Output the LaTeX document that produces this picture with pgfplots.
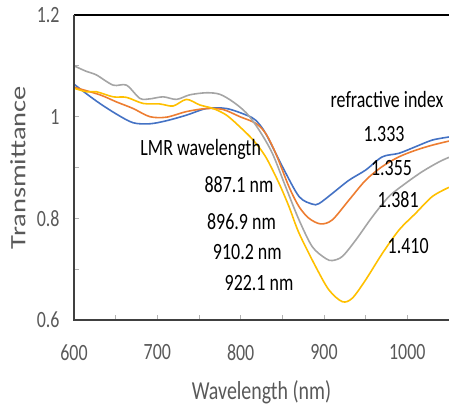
\documentclass[border=0pt]{standalone}
\usepackage{fontspec}
\setmainfont{Carlito}
\usepackage{graphicx}
\usepackage{pgfplots}
\pgfplotsset{compat=1.18}
\definecolor{xlblue}{HTML}{4472C4}
\definecolor{xlorange}{HTML}{ED7D31}
\definecolor{xlgray}{HTML}{A5A5A5}
\definecolor{xlyellow}{HTML}{FFC000}
\definecolor{lblgray}{HTML}{595959}
\newcommand{\st}[1]{\scalebox{1}[1.3]{#1}}
\begin{document}
\begin{tikzpicture}
\begin{axis}[
  scale only axis, width=375bp, height=305bp,
  xmin=600, xmax=1050, ymin=0.6, ymax=1.2,
  clip mode=individual,
  axis line style={draw=none},
  xtick={600,700,800,900,1000},
  xticklabels={\st{600},\st{700},\st{800},\st{900},\st{1000}},
  minor xtick={650,750,850,950,1050},
  ytick={0.6,0.8,1,1.2},
  yticklabels={\st{0.6},\st{0.8},\st{1},\st{1.2}},
  minor ytick={0.7,0.9,1.1},
  xtick pos=bottom, ytick pos=left,
  tick align=inside,
  major tick length=5bp, minor tick length=5bp,
  every tick/.style={draw=gray!60, line width=0.8pt},
  tick label style={font=\fontsize{18}{20}\selectfont, text=lblgray},
  xticklabel style={yshift=-21bp},
  yticklabel style={xshift=-11bp},
  xlabel={\st{Wavelength (nm)}},
  ylabel={\scalebox{1.3}[1]{Transmittance}},
  every axis x label/.style={at={(axis description cs:0.5,0)}, anchor=center, yshift=-72bp, font=\fontsize{20}{22}\selectfont, text=lblgray},
  every axis y label/.style={at={([xshift=-56bp]axis description cs:0,0.5)}, rotate=90, anchor=center, font=\fontsize{22}{24}\selectfont, text=lblgray},
  every axis plot/.append style={line width=1.6bp, smooth, no markers},
]
\addplot[xlblue] coordinates {(600,1.064)(615,1.045)(631,1.026)(651,1.005)(671,0.988)(691,0.986)(711,0.992)(735,1.003)(759,1.016)(783,1.016)(807,1.003)(818,0.993)(830,0.967)(850,0.902)(870,0.843)(886,0.828)(894,0.829)(910,0.849)(930,0.875)(950,0.895)(970,0.921)(990,0.928)(1010,0.941)(1030,0.954)(1050,0.960)};
\addplot[xlorange] coordinates {(600,1.058)(631,1.043)(651,1.029)(671,1.016)(691,1.000)(711,0.999)(735,1.010)(759,1.016)(779,1.014)(799,1.000)(818,0.987)(830,0.967)(842,0.928)(858,0.862)(870,0.823)(882,0.800)(896,0.789)(910,0.797)(930,0.836)(950,0.875)(970,0.902)(990,0.921)(1010,0.934)(1030,0.944)(1050,0.952)};
\addplot[xlgray] coordinates {(600,1.100)(615,1.089)(627,1.082)(647,1.062)(663,1.062)(679,1.036)(691,1.035)(707,1.039)(723,1.034)(739,1.043)(759,1.047)(775,1.044)(791,1.029)(807,1.007)(822,0.974)(838,0.928)(854,0.862)(870,0.797)(886,0.744)(902,0.721)(910,0.717)(922,0.725)(938,0.757)(958,0.803)(978,0.843)(998,0.869)(1018,0.892)(1038,0.911)(1050,0.920)};
\addplot[xlyellow] coordinates {(600,1.056)(615,1.049)(627,1.049)(647,1.039)(663,1.038)(683,1.026)(703,1.025)(719,1.021)(735,1.034)(751,1.023)(767,1.016)(783,1.003)(799,0.980)(815,0.954)(830,0.921)(846,0.869)(858,0.823)(870,0.771)(890,0.705)(906,0.659)(922,0.636)(934,0.643)(950,0.679)(970,0.731)(990,0.777)(1010,0.810)(1030,0.843)(1050,0.861)};
\draw[black, line width=1.8bp] (rel axis cs:0,1) -- (rel axis cs:1,1);
\draw[darkgray, line width=1.1bp] (rel axis cs:0,1) -- (rel axis cs:0,0) -- (rel axis cs:1,0);
\begin{scope}[every node/.style={font=\fontsize{18}{20}\selectfont, text=black, anchor=center, inner sep=0pt}]
\node at (axis cs:975.6,1.034) {\st{refractive index}};
\node at (axis cs:972,0.966) {\st{1.333}};
\node at (axis cs:981,0.898) {\st{1.355}};
\node at (axis cs:989,0.836) {\st{1.381}};
\node at (axis cs:1001,0.746) {\st{1.410}};
\node at (axis cs:752,0.936) {\st{LMR wavelength}};
\node at (axis cs:798,0.867) {\st{887.1 nm}};
\node at (axis cs:801,0.793) {\st{896.9 nm}};
\node at (axis cs:808,0.733) {\st{910.2 nm}};
\node at (axis cs:822,0.672) {\st{922.1 nm}};
\end{scope}
\coordinate (bl) at (rel axis cs:0,0);
\coordinate (tr) at (rel axis cs:1,1);
\end{axis}
\pgfresetboundingbox
\path ([shift={(-74bp,-87bp)}]bl) rectangle ([shift={(0bp,15bp)}]tr);
\end{tikzpicture}
\end{document}
